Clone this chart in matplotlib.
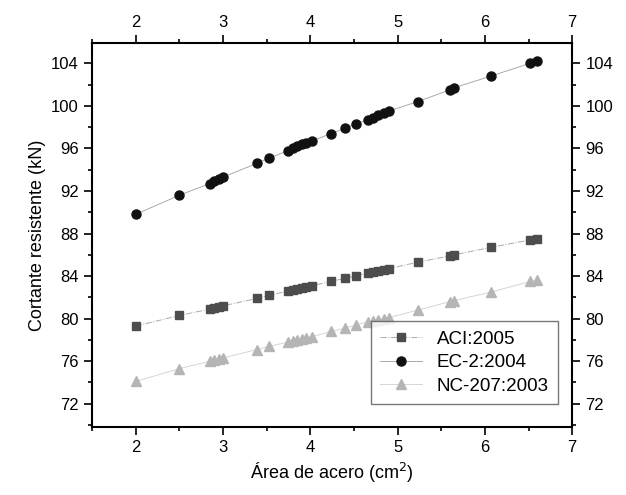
import numpy as np
import matplotlib
matplotlib.use("Agg")
import matplotlib.pyplot as plt
from matplotlib.ticker import MultipleLocator

plt.rcParams['font.family'] = ['Liberation Sans', 'DejaVu Sans']

# steel area (cm2)
area = [2.0, 2.5, 2.85, 2.9, 2.95, 3.0, 3.39, 3.53, 3.75, 3.8, 3.85, 3.9, 3.95, 4.02,
        4.24, 4.4, 4.52, 4.66, 4.72, 4.78, 4.84, 4.9, 5.23, 5.6, 5.65, 6.07, 6.52, 6.6]

aci = [79.3, 80.3, 80.9, 81.0, 81.1, 81.2, 81.9, 82.2, 82.6, 82.7, 82.8, 82.9, 83.0, 83.1,
       83.5, 83.8, 84.0, 84.3, 84.4, 84.5, 84.6, 84.7, 85.3, 85.9, 86.0, 86.7, 87.4, 87.5]

ec2 = [89.8, 91.6, 92.7, 92.9, 93.1, 93.3, 94.6, 95.1, 95.8, 96.0, 96.2, 96.4, 96.5, 96.7,
       97.4, 97.9, 98.3, 98.7, 98.9, 99.1, 99.3, 99.5, 100.4, 101.5, 101.7, 102.8, 104.0, 104.2]

nc207 = [74.1, 75.3, 76.0, 76.1, 76.2, 76.3, 77.1, 77.4, 77.8, 77.9, 78.0, 78.1, 78.2, 78.3,
         78.8, 79.1, 79.4, 79.7, 79.8, 79.9, 80.0, 80.1, 80.8, 81.6, 81.7, 82.5, 83.5, 83.6]

fig = plt.figure(figsize=(6.26, 4.95), dpi=100)
ax = fig.add_axes([0.147, 0.137, 0.767, 0.776])

ax.plot(area, aci, color='#aaaaaa', lw=0.7, ls='-.', marker='s', ms=5.5,
        mfc='#4d4d4d', mec='#4d4d4d', label='ACI:2005')
ax.plot(area, ec2, color='#aaaaaa', lw=0.7, ls='-', marker='o', ms=6.5,
        mfc='#111111', mec='#111111', label='EC-2:2004')
ax.plot(area, nc207, color='#d5d5d5', lw=0.7, ls='-', marker='^', ms=6.5,
        mfc='#b5b5b5', mec='#b5b5b5', label='NC-207:2003')

ax.set_xlim(1.5, 7)
ax.set_ylim(69.8, 105.9)
ax.xaxis.set_major_locator(MultipleLocator(1))
ax.xaxis.set_minor_locator(MultipleLocator(0.5))
ax.yaxis.set_major_locator(MultipleLocator(4))
ax.yaxis.set_minor_locator(MultipleLocator(2))
ax.set_yticks(np.arange(72, 105, 4))

ax.tick_params(which='both', direction='out', top=True, right=True,
               labeltop=True, labelright=True, labelsize=12, width=1.2)
ax.tick_params(which='major', length=6)
ax.tick_params(which='minor', length=3)
for s in ax.spines.values():
    s.set_linewidth(1.5)

ax.set_xlabel('Área de acero (cm$^2$)', fontsize=13)
ax.set_ylabel('Cortante resistente (kN)', fontsize=13)

leg = ax.legend(loc='lower right', fontsize=13.5, frameon=True, fancybox=False,
                edgecolor='#555555', handlelength=2.2, borderpad=0.5,
                labelspacing=0.35, bbox_to_anchor=(0.99, 0.035))
leg.get_frame().set_linewidth(1.0)

fig.savefig('out.png', dpi=100)
